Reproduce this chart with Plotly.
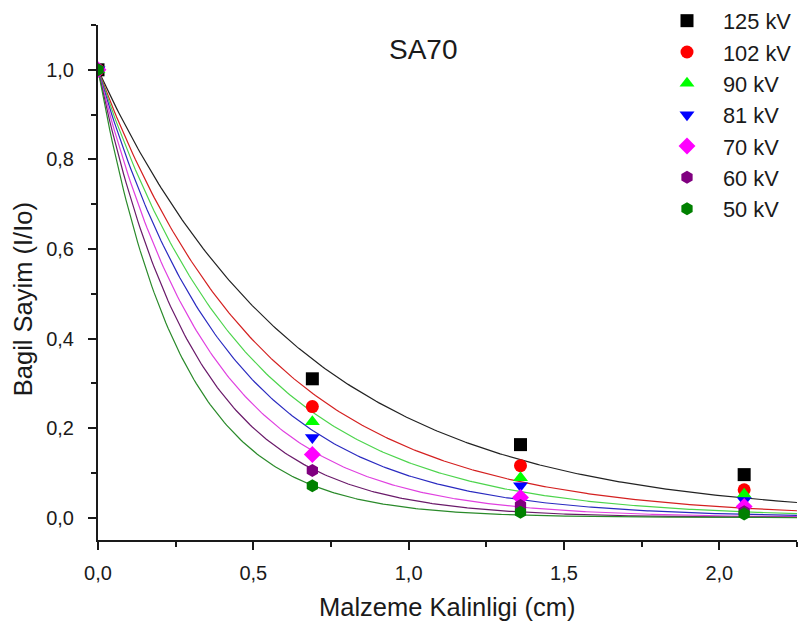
import numpy as np
import plotly.graph_objects as go

# Sample thickness (cm) and relative count I/Io for each tube voltage
thickness = [0.0, 0.69, 1.36, 2.08]
voltages = ["125 kV", "102 kV", "90 kV", "81 kV", "70 kV", "60 kV", "50 kV"]
rel_125 = [1.0, 0.310, 0.163, 0.096]
rel_102 = [1.0, 0.248, 0.116, 0.062]
rel_90 = [1.0, 0.214, 0.089, 0.052]
rel_81 = [1.0, 0.179, 0.071, 0.038]
rel_70 = [1.0, 0.141, 0.045, 0.025]
rel_60 = [1.0, 0.105, 0.027, 0.013]
rel_50 = [1.0, 0.071, 0.012, 0.008]
series = [rel_125, rel_102, rel_90, rel_81, rel_70, rel_60, rel_50]

colors = ["#000000", "#ff0000", "#00ff00", "#0000ff", "#ff00ff", "#800080", "#008000"]
line_colors = ["#222222", "#d42020", "#4cd44c", "#2a2ac0", "#e040e0", "#6a1a6a", "#2a8a2a"]
symbols = ["square", "circle", "triangle-up", "triangle-down", "diamond", "hexagon", "hexagon"]

FONT = "Liberation Sans, Arial, sans-serif"
INK = "#1a1a1a"
W, H = 808, 628

# paper spans pixel rows 10..540 (t=10, b=88)
PAPER_TOP, PAPER_BOTTOM = 10, 540


def py(pixel_row):
    """Paper y coordinate of a pixel row."""
    return (PAPER_BOTTOM - pixel_row) / (PAPER_BOTTOM - PAPER_TOP)


def fit_mu(x, y):
    """Least-squares fit of I/Io = exp(-mu * x)."""
    x = np.asarray(x)
    y = np.asarray(y)
    grid = np.arange(0.2, 10.0, 0.0005)
    err = ((y[None, :] - np.exp(-grid[:, None] * x[None, :])) ** 2).sum(axis=1)
    return grid[np.argmin(err)]


xs = np.linspace(0.0, 2.25, 300)
fig = go.Figure()

for name, ys, lc in zip(voltages, series, line_colors):
    mu = fit_mu(thickness, ys)
    fig.add_trace(go.Scatter(
        x=xs, y=np.exp(-mu * xs), mode="lines",
        line=dict(color=lc, width=1.2), showlegend=False, hoverinfo="skip"))

for name, ys, c, s in zip(voltages, series, colors, symbols):
    fig.add_trace(go.Scatter(
        x=thickness, y=ys, mode="markers", name=name, legendgroup=name,
        marker=dict(symbol=s, size=13, color=c, line=dict(width=0))))

axis_common = dict(
    showgrid=False, zeroline=False, showline=True, linecolor=INK, linewidth=2,
    ticks="outside", ticklen=8, tickwidth=2, tickcolor=INK,
    tickfont=dict(family=FONT, size=20, color=INK),
    tickformat=".1f", mirror=False,
)

fig.update_xaxes(range=[0, 2.2501], dtick=0.5, tick0=0, ticklabelstandoff=6,
                 minor=dict(ticks="outside", ticklen=5, tickwidth=2, dtick=0.25, tickcolor=INK),
                 **axis_common)
fig.update_yaxes(range=[-0.05, 1.1001], dtick=0.2, tick0=0, ticklabelstandoff=10,
                 domain=[0, py(25)],
                 minor=dict(ticks="outside", ticklen=5, tickwidth=2, dtick=0.1, tickcolor=INK),
                 **axis_common)

title_font = dict(family=FONT, size=25.5, color=INK)
fig.add_annotation(text="SA70", x=0.465, y=py(50), xref="paper", yref="paper",
                   showarrow=False, xanchor="center", yanchor="middle",
                   font=dict(family=FONT, size=28, color=INK))
fig.add_annotation(text="Malzeme Kalinligi (cm)", x=0.499, y=py(607), xref="paper", yref="paper",
                   showarrow=False, xanchor="center", yanchor="middle", font=title_font)
fig.add_annotation(text="Bagil Sayim (I/Io)", x=-0.107, y=py(299), xref="paper", yref="paper",
                   showarrow=False, textangle=-90, xanchor="center", yanchor="middle",
                   font=title_font)

fig.update_layout(
    width=W, height=H,
    margin=dict(l=98, r=11, t=10, b=88, autoexpand=False),
    paper_bgcolor="white", plot_bgcolor="white",
    separators=", ",
    legend=dict(x=651 / W, y=1 + 11 / H, xref="container", yref="container",
                xanchor="left", yanchor="top",
                font=dict(family=FONT, size=21.8, color=INK),
                bgcolor="rgba(0,0,0,0)", tracegroupgap=0, itemwidth=62),
)

fig.write_html("out.html")
